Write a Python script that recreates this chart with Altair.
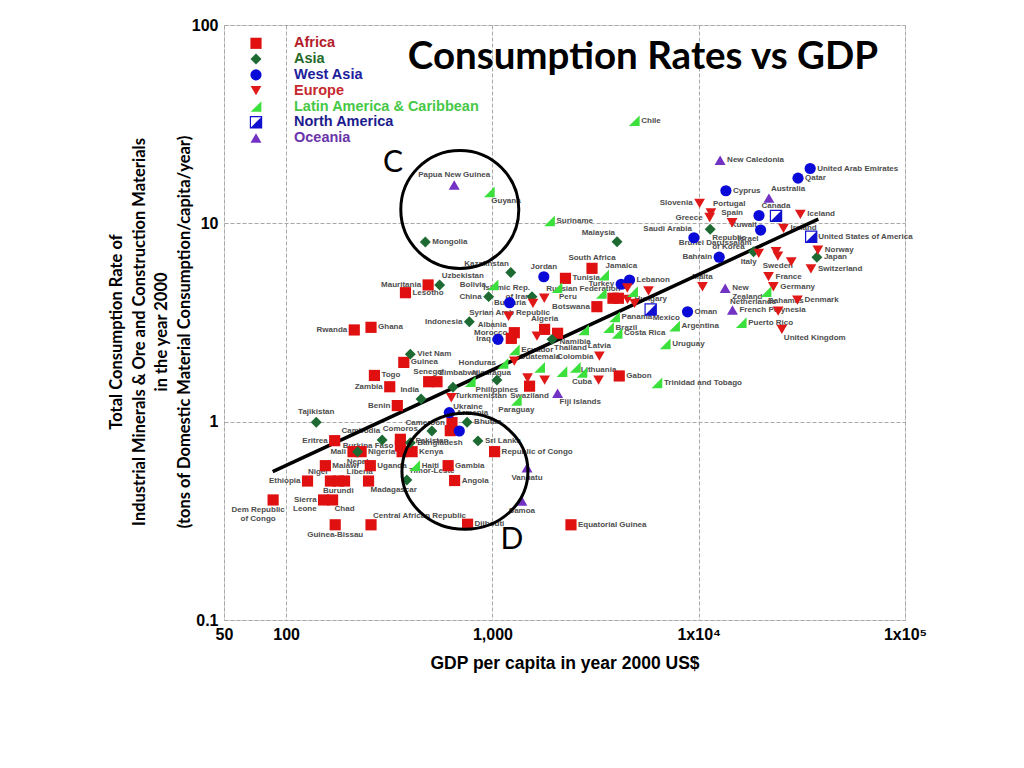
import altair as alt
import pandas as pd

REGIONS = ["Africa", "Asia", "West Asia", "Europe", "Latin America & Caribbean", "North America", "Oceania"]
CODE = {"AF": "Africa", "AS": "Asia", "WA": "West Asia", "EU": "Europe",
        "LA": "Latin America & Caribbean", "NA": "North America", "OC": "Oceania"}

COUNTRIES = [
    "Chile", "New Caledonia", "United Arab Emirates", "Qatar", "Cyprus", "Australia", "Slovenia", "Portugal", "Greece", "Spain",
    "Kuwait", "Canada", "Iceland", "Israel", "Ireland", "Republic\nof Korea", "Saudi Arabia", "United States of America", "Malaysia", "Bahrain",
    "Brunei Darussalam", "Italy", "", "Sweden", "", "Norway", "Japan", "Switzerland", "France", "Germany",
    "Bahamas", "Denmark", "Malta", "New\nZealand", "French Polynesia", "Netherlands", "Puerto Rico", "United Kingdom", "Oman", "Argentina",
    "Uruguay", "Trinidad and Tobago", "Mexico", "Lebanon", "Turkey", "Jamaica", "South Africa", "Tunisia", "Jordan", "Peru",
    "Russian Federation", "Bulgaria", "Islamic Rep.\nof Iran", "Kazakhstan", "Bolivia", "China", "Syrian Arab Republic", "Albania", "Indonesia", "Morocco",
    "Iraq", "", "Algeria", "Namibia", "", "Thailand", "Latvia", "", "Botswana", "Panama",
    "Brazil", "Costa Rica", "Hungary", "", "", "", "", "", "", "",
    "Gabon", "Ecuador", "", "Honduras", "Guatemala", "", "Colombia", "Cuba", "Lithuania", "Swaziland",
    "", "", "Fiji Islands", "Paraguay", "Nicaragua", "Philippines", "Turkmenistan", "Ukraine", "Armenia", "India",
    "Senegal", "Zimbabwe", "Togo", "Zambia", "Benin", "Guinea", "Viet Nam", "Ghana", "Rwanda", "Mauritania",
    "Lesotho", "Uzbekistan", "Tajikistan", "Mongolia", "Papua New Guinea", "Guyana", "Suriname", "Eritrea", "Cambodia", "Comoros",
    "Burkina Faso", "Nigeria", "Kenya", "Bangladesh", "Pakistan", "Mali", "", "Nepal", "Malawi", "Uganda",
    "Ethiopia", "Niger", "Liberia", "Burundi", "Madagascar", "Sierra\nLeone", "Chad", "Dem Republic\nof Congo", "Guinea-Bissau", "Central African Republic",
    "Djibouti", "Haiti", "Timor-Leste", "Gambia", "Angola", "Republic of Congo", "Sri Lanka", "Cameroon", "", "",
    "Bhutan", "Vanuatu", "Samoa", "Equatorial Guinea",
]
REGION_CODES = [
    "LA", "OC", "WA", "WA", "WA", "OC", "EU", "EU", "EU", "EU",
    "WA", "NA", "EU", "WA", "EU", "AS", "WA", "NA", "AS", "WA",
    "AS", "EU", "EU", "EU", "EU", "EU", "AS", "EU", "EU", "EU",
    "LA", "EU", "EU", "OC", "OC", "EU", "LA", "EU", "WA", "LA",
    "LA", "LA", "NA", "WA", "WA", "LA", "AF", "AF", "WA", "LA",
    "EU", "EU", "AS", "AS", "LA", "AS", "WA", "EU", "AS", "AF",
    "WA", "AF", "AF", "AF", "EU", "AS", "EU", "LA", "AF", "LA",
    "LA", "LA", "EU", "EU", "EU", "AF", "AF", "LA", "LA", "EU",
    "AF", "LA", "EU", "LA", "LA", "LA", "LA", "LA", "EU", "AF",
    "EU", "EU", "OC", "LA", "LA", "AS", "AS", "EU", "WA", "AS",
    "AF", "AF", "AF", "AF", "AF", "AF", "AS", "AF", "AF", "AF",
    "AF", "AS", "AS", "AS", "OC", "LA", "LA", "AF", "AS", "AF",
    "AF", "AF", "AF", "AS", "AS", "AF", "AF", "AS", "AF", "AF",
    "AF", "AF", "AF", "AF", "AF", "AF", "AF", "AF", "AF", "AF",
    "AF", "LA", "AS", "AF", "AF", "AF", "AS", "AF", "AF", "WA",
    "AS", "OC", "OC", "AF",
]
GDP = [
    4870, 12700, 34700, 30300, 13550, 21900, 10100, 11460, 11300, 14520,
    19600, 23700, 31100, 19950, 25760, 11370, 9480, 35100, 4020, 12570,
    18450, 19540, 23700, 24200, 28100, 37800, 37400, 35000, 21800, 23000,
    21200, 30100, 10430, 13440, 14580, 24270, 16070, 25300, 8830, 7640,
    6880, 6270, 5850, 4620, 4210, 3460, 3040, 2260, 1775, 2056,
    1784, 1573, 1556, 1228, 1007, 959, 1211, 1198, 773, 1277,
    1064, 1235, 1791, 2070, 1644, 1945, 3300, 2770, 3210, 3910,
    3655, 4020, 4520, 4890, 5710, 3840, 4080, 4780, 3370, 4510,
    4120, 1277, 1277, 1125, 1694, 2173, 2523, 2716, 3270, 1514,
    1481, 1791, 2070, 1306, 781, 1052, 644, 632, 618, 451,
    491, 539, 268, 318, 346, 372, 400, 258, 214, 488,
    379, 555, 140, 473, 653, 966, 1892, 172, 292, 358,
    358, 365, 408, 400, 509, 211, 231, 222, 155, 256,
    127, 164, 192, 179, 251, 152, 168, 86.5, 173, 258,
    758, 420, 385, 610, 656, 1025, 851, 637, 625, 691,
    754, 1472, 1390, 2404,
]
RATE = [
    32.9, 20.8, 18.9, 16.9, 14.6, 13.4, 12.6, 11.3, 10.7, 10.07,
    10.95, 10.9, 11.1, 9.25, 9.44, 9.33, 8.46, 8.56, 8.07, 6.75,
    7.19, 7.06, 7.19, 6.84, 6.40, 7.33, 6.75, 5.89, 5.38, 4.79,
    4.52, 4.10, 4.79, 4.70, 3.66, 3.61, 3.16, 2.92, 3.58, 3.03,
    2.47, 1.57, 3.68, 5.18, 4.93, 5.48, 5.93, 5.28, 5.38, 4.74,
    4.19, 3.95, 4.27, 5.65, 4.89, 4.27, 3.98, 3.40, 3.19, 2.81,
    2.60, 2.63, 2.92, 2.79, 2.70, 2.60, 2.14, 2.90, 3.80, 3.38,
    2.98, 2.79, 4.14, 3.95, 4.57, 4.19, 4.19, 4.52, 4.44, 4.72,
    1.70, 2.30, 2.02, 1.97, 1.88, 1.79, 1.88, 1.77, 1.62, 1.51,
    1.66, 1.62, 1.39, 1.28, 1.59, 1.62, 1.49, 1.32, 1.11, 1.30,
    1.59, 1.59, 1.71, 1.50, 1.205, 1.99, 2.19, 2.99, 2.90, 4.89,
    4.47, 4.89, 0.993, 8.05, 15.6, 14.4, 10.3, 0.802, 0.809, 0.815,
    0.754, 0.706, 0.706, 0.782, 0.898, 0.706, 0.706, 0.706, 0.60, 0.60,
    0.502, 0.502, 0.502, 0.502, 0.502, 0.403, 0.403, 0.403, 0.302, 0.302,
    0.304, 0.60, 0.508, 0.60, 0.505, 0.706, 0.80, 0.989, 0.901, 0.897,
    0.993, 0.586, 0.398, 0.302,
]

# trend line end points and annotation circles (C, D)
FIT_GDP = [86.1, 38000]
FIT_RATE = [0.56, 10.5]
CIRCLE_GDP = [695, 736]
CIRCLE_RATE = [11.74, 0.562]

X_TICKS = [50, 100, 1000, 10000, 100000]
Y_TICKS = [0.1, 1, 10, 100]

assert len(COUNTRIES) == len(REGION_CODES) == len(GDP) == len(RATE)

# ---------------- styles ----------------
MARKER_COLOR = {
    "Africa": "#e01010", "Asia": "#1d6b33", "West Asia": "#0a0ad8", "Europe": "#e01818",
    "Latin America & Caribbean": "#3ce03c", "North America": "#1010d0", "Oceania": "#7232c4",
}
LEGEND_TEXT_COLOR = {
    "Africa": "#b2202a", "Asia": "#276b2b", "West Asia": "#20209c", "Europe": "#c6282d",
    "Latin America & Caribbean": "#46c846", "North America": "#1c1c8e", "Oceania": "#6a34aa",
}
CORNER = "M1,-1L1,1L-1,1Z"
MARKER = {
    "Africa": dict(shape="square", size=125),
    "Asia": dict(shape="diamond", size=120),
    "West Asia": dict(shape="circle", size=125),
    "Europe": dict(shape="triangle-down", size=115),
    "Latin America & Caribbean": dict(shape=CORNER, size=115),
    "North America": dict(shape="square", size=125),
    "Oceania": dict(shape="triangle-up", size=120),
}

LABEL_SIDE = {}
for n in ["Australia", "Portugal", "Jamaica", "Russian Federation", "Nicaragua", "Zimbabwe", "Uzbekistan",
          "Liberia", "Central African Republic", "Timor-Leste"]:
    LABEL_SIDE[n] = "tr"
for n in ["Slovenia", "Greece", "Bahrain", "Turkey", "Bulgaria", "Bolivia", "China", "Indonesia", "Morocco", "Iraq",
          "Botswana", "Honduras", "Zambia", "Benin", "Rwanda", "Mauritania", "Eritrea", "Burkina Faso", "Nigeria",
          "Mali", "Ethiopia", "Sierra\nLeone", "Cameroon"]:
    LABEL_SIDE[n] = "l"
for n in ["Spain", "Canada", "Malta", "South Africa", "Jordan", "Algeria", "Latvia", "Guatemala",
          "Colombia", "Lithuania", "Senegal", "Tajikistan", "Papua New Guinea", "Comoros"]:
    LABEL_SIDE[n] = "t"
for n in ["Kuwait", "Israel", "Italy", "Albania"]:
    LABEL_SIDE[n] = "bl"
for n in ["Republic\nof Korea", "Bahamas", "United Kingdom", "Mexico", "Peru", "Namibia", "Thailand", "Fiji Islands",
          "Turkmenistan", "Ukraine", "Guyana", "Madagascar", "Chad"]:
    LABEL_SIDE[n] = "br"
for n in ["Saudi Arabia", "Malaysia", "Brunei Darussalam", "Islamic Rep.\nof Iran", "Kazakhstan", "India",
          "Cambodia", "Niger", "Netherlands"]:
    LABEL_SIDE[n] = "tl"
for n in ["Sweden", "Syrian Arab Republic", "Cuba", "Swaziland", "Paraguay", "Philippines", "Pakistan", "Nepal",
          "Burundi", "Guinea-Bissau", "Vanuatu", "Samoa"]:
    LABEL_SIDE[n] = "b"
LABEL_SIDE["Dem Republic\nof Congo"] = "bc"

SIDE_STYLE = {
    "r": dict(align="left", baseline="middle", dx=7, dy=0),
    "l": dict(align="right", baseline="middle", dx=-7, dy=0),
    "t": dict(align="center", baseline="bottom", dx=0, dy=-6),
    "b": dict(align="center", baseline="top", dx=0, dy=6),
    "tr": dict(align="left", baseline="bottom", dx=2, dy=-5),
    "tl": dict(align="right", baseline="bottom", dx=-2, dy=-5),
    "br": dict(align="left", baseline="top", dx=2, dy=5),
    "bl": dict(align="right", baseline="top", dx=-2, dy=5),
    "bc": dict(align="center", baseline="top", dx=-15, dy=6),
}

# ---------------- data ----------------
data = pd.DataFrame({
    "country": COUNTRIES,
    "region": [CODE[c] for c in REGION_CODES],
    "gdp": GDP,
    "rate": RATE,
})
data["side"] = [LABEL_SIDE.get(c, "r") for c in COUNTRIES]
fit = pd.DataFrame({"gdp": FIT_GDP, "rate": FIT_RATE})
circles = pd.DataFrame({"gdp": CIRCLE_GDP, "rate": CIRCLE_RATE, "name": ["C", "D"]})

FONT = "Liberation Sans"

X = alt.X("gdp:Q",
          scale=alt.Scale(type="log", domain=[50, 100000], nice=False),
          axis=alt.Axis(values=X_TICKS,
                        labelExpr="datum.value == 1000 ? '1,000' : datum.value == 10000 ? '1x10\u2074' : datum.value == 100000 ? '1x10\u2075' : format(datum.value, 'd')",
                        grid=True, gridColor="#a8a8a8", gridDash=[4, 2], gridWidth=1,
                        ticks=False, domain=False,
                        labelFont=FONT, labelFontSize=16, labelFontWeight="bold", labelColor="black",
                        labelPadding=6, labelFlush=False, labelOverlap=False,
                        title="GDP per capita in year 2000 US$", titleFont=FONT, titleFontSize=17.5,
                        titleFontWeight="bold", titleColor="black", titlePadding=12))
Y = alt.Y("rate:Q",
          scale=alt.Scale(type="log", domain=[0.1, 100], nice=False),
          axis=alt.Axis(values=Y_TICKS,
                        labelExpr="datum.value < 0.5 ? '0.1' : format(datum.value, 'd')",
                        grid=True, gridColor="#a8a8a8", gridDash=[4, 2], gridWidth=1,
                        ticks=False, domain=False,
                        labelFont=FONT, labelFontSize=16, labelFontWeight="bold", labelColor="black",
                        labelPadding=6, labelFlush=False, labelOverlap=False, title=None))

base = alt.Chart(data).encode(x=X, y=Y)

layers = []

# country labels (under the markers)
labelled = base.transform_filter(alt.datum.country != "")
for side, st in SIDE_STYLE.items():
    layers.append(
        labelled.transform_filter(alt.datum.side == side).mark_text(
            font=FONT, fontSize=8, fontWeight="bold", color="#4d4d4d", lineBreak="\n", lineHeight=9,
            align=st["align"], baseline=st["baseline"], dx=st["dx"], dy=st["dy"],
        ).encode(text="country:N")
    )

# regression line
layers.append(
    alt.Chart(fit).mark_line(color="black", strokeWidth=3.5).encode(x="gdp:Q", y="rate:Q")
)

# markers per region
for reg in REGIONS:
    sub = base.transform_filter(alt.datum.region == reg)
    m = MARKER[reg]
    if reg == "North America":
        layers.append(sub.mark_point(shape="square", size=m["size"], filled=True, fill="white",
                                     stroke=MARKER_COLOR[reg], strokeWidth=1.2, opacity=1))
        layers.append(sub.mark_point(shape=CORNER, size=m["size"], filled=True,
                                     color=MARKER_COLOR[reg], opacity=1))
    else:
        layers.append(sub.mark_point(shape=m["shape"], size=m["size"], filled=True,
                                     color=MARKER_COLOR[reg], opacity=1))

# annotation circles C and D
layers.append(
    alt.Chart(circles).transform_filter(alt.datum.name == "C").mark_point(
        shape="circle", size=118 * 118, filled=False, color="black", strokeWidth=3, opacity=1
    ).encode(x="gdp:Q", y="rate:Q")
)
layers.append(
    alt.Chart(circles).transform_filter(alt.datum.name == "D").mark_point(
        shape="M-1,0A1,0.92 0 1,1 1,0A1,0.92 0 1,1 -1,0Z", size=126 * 126, filled=False,
        color="black", strokeWidth=3, opacity=1
    ).encode(x="gdp:Q", y="rate:Q")
)

one = pd.DataFrame({"a": [0]})

# letters C and D
layers.append(alt.Chart(one).mark_text(text="C", font="Lato", fontSize=30, color="black",
                                       align="center", baseline="middle")
              .encode(x=alt.value(169), y=alt.value(138)))
layers.append(alt.Chart(one).mark_text(text="D", font="Lato", fontSize=30, color="black",
                                       align="center", baseline="middle")
              .encode(x=alt.value(288), y=alt.value(515)))

# title inside the plot
layers.append(alt.Chart(one).mark_text(text="Consumption Rates vs GDP", font="Lato", fontSize=38.5,
                                       fontWeight="bold", color="black", align="center", baseline="middle")
              .encode(x=alt.value(419), y=alt.value(32)))

# y axis title (4 lines, rotated)
layers.append(alt.Chart(one).mark_text(
    text=["Total Consumption Rate of",
          "Industrial Minerals & Ore and Construction Materials",
          "in the year 2000",
          "(tons of Domestic Material Consumption/capita/year)"],
    font="Lato", fontSize=16.5, fontWeight="bold", color="black", angle=270, lineHeight=22.7,
    align="center", baseline="middle").encode(x=alt.value(-107), y=alt.value(307)))

# custom legend
LEG_X_SYM = 32
LEG_X_TXT = 70
LEG_Y0 = 18.3
LEG_STEP = 15.8
for i, reg in enumerate(REGIONS):
    ldf = pd.DataFrame({"region": [reg]})
    yv = LEG_Y0 + LEG_STEP * i
    m = MARKER[reg]
    lc = alt.Chart(ldf)
    if reg == "North America":
        layers.append(lc.mark_point(shape="square", size=m["size"], filled=True, fill="white",
                                    stroke=MARKER_COLOR[reg], strokeWidth=1.2, opacity=1)
                      .encode(x=alt.value(LEG_X_SYM), y=alt.value(yv)))
        layers.append(lc.mark_point(shape=CORNER, size=m["size"], filled=True, color=MARKER_COLOR[reg], opacity=1)
                      .encode(x=alt.value(LEG_X_SYM), y=alt.value(yv)))
    else:
        layers.append(lc.mark_point(shape=m["shape"], size=m["size"], filled=True, color=MARKER_COLOR[reg], opacity=1)
                      .encode(x=alt.value(LEG_X_SYM), y=alt.value(yv)))
    layers.append(lc.mark_text(font=FONT, fontSize=14.5, fontWeight="bold", color=LEGEND_TEXT_COLOR[reg],
                               align="left", baseline="middle")
                  .encode(x=alt.value(LEG_X_TXT), y=alt.value(yv), text="region:N"))

chart = alt.layer(*layers).properties(
    width=681, height=595,
    autosize=alt.AutoSizeParams(type="none"),
    padding={"left": 216, "top": 17, "right": 100, "bottom": 120},
).configure_view(stroke="#8c8cd0", strokeWidth=1.5).configure(background="white")

chart.save("out.html", embed_options={"renderer": "svg", "actions": False})
